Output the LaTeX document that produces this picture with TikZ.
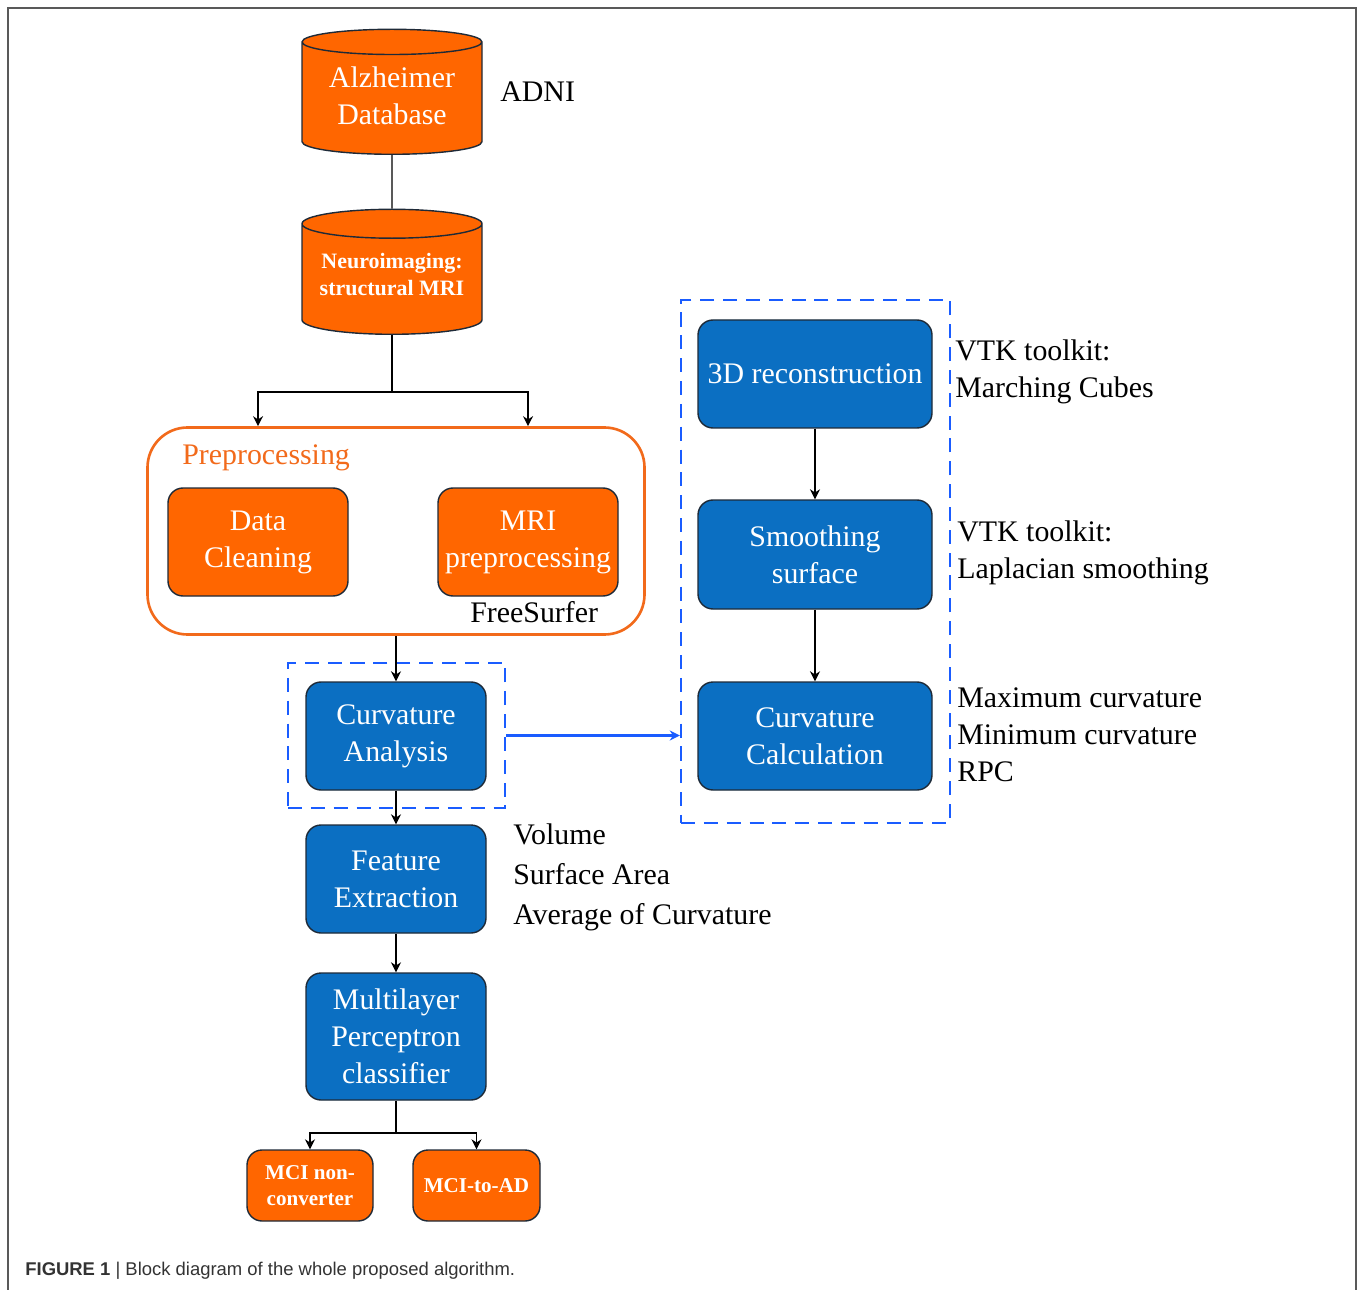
\documentclass[tikz,border=0pt]{standalone}
\usepackage{fontspec}
\setmainfont{Liberation Serif}
\setsansfont{Liberation Sans}
\usetikzlibrary{arrows.meta,positioning,shapes.geometric}
\definecolor{orng}{HTML}{FF6600}
\definecolor{orline}{HTML}{F26A1B}
\definecolor{bluebox}{HTML}{0B6FC2}
\definecolor{dashblue}{HTML}{1A5CFF}
\definecolor{edge}{HTML}{1E2A38}
\newlength{\unitpx}\setlength{\unitpx}{0.02cm}
\newcommand{\liftup}[1]{\raisebox{16pt}{\begin{tabular}{@{}c@{}}#1\end{tabular}}}

\begin{document}
\begin{tikzpicture}[x=0.02cm, y=-0.02cm, >={Stealth[length=2mm,width=2mm]},
  ob/.style={draw=edge, line width=0.8pt, fill=orng, rounded corners=15\unitpx, text=white, align=center, inner sep=0pt, minimum width=180\unitpx, minimum height=108\unitpx, font=\fontsize{17}{21}\selectfont},
  bb/.style={ob, fill=bluebox},
  cyl/.style={cylinder, shape border rotate=90, draw=edge, line width=0.8pt, cylinder uses custom fill, cylinder body fill=orng, cylinder end fill=orng, aspect=0.2, text=white, inner sep=0pt, minimum width=180\unitpx, minimum height=125\unitpx},
  dbox/.style={draw=dashblue, line width=1.4pt, dash pattern=on 8pt off 5pt, inner sep=0pt},
  note/.style={anchor=west, align=left, inner sep=0pt, font=\fontsize{17}{21}\selectfont}]
\useasboundingbox (0,0) rectangle (1358,1290);
\draw[black!65, line width=1pt] (8,1290) -- (8,8) -- (1356,8) -- (1356,1290);
\node[cyl, anchor=south, font=\fontsize{17}{21}\selectfont] (adb) at (392,155) {\liftup{Alzheimer\\Database}};
\node[note] (adni) at (500,92) {ADNI};
\node[cyl, anchor=south, font=\fontsize{12.5}{15.5}\selectfont\bfseries] (mri) at (392,335) {\liftup{Neuroimaging:\\structural MRI}};
\node[draw=orline, line width=1.5pt, rounded corners=40\unitpx, minimum width=497\unitpx, minimum height=207\unitpx] (prep) at (396,531) {};
\node[note, text=orline] (preplbl) at (182,458) {Preprocessing};
\node[ob] (clean) at (258,542) {Data\\Cleaning};
\node[ob] (mrip) at (528,542) {MRI\\preprocessing};
\node[note] (fs) at (470,612) {FreeSurfer};
\node[dbox, minimum width=217\unitpx, minimum height=145\unitpx] (cabox) at (396.5,735.5) {};
\node[bb] (ca) at (396,736) {Curvature\\Analysis};
\node[bb] (fe) at (396,879) {Feature\\Extraction};
\node[note, font=\fontsize{17}{22.7}\selectfont] (feats) at (513,877) {Volume\\Surface Area\\Average of Curvature};
\node[bb, minimum height=127\unitpx] (mlp) at (396,1036.5) {Multilayer\\Perceptron\\classifier};
\node[ob, minimum width=126\unitpx, minimum height=71\unitpx, font=\fontsize{12}{15}\selectfont\bfseries] (nonconv) at (310,1185.5) {MCI non-\\converter};
\node[ob, minimum width=127\unitpx, minimum height=71\unitpx, font=\fontsize{12}{15}\selectfont\bfseries] (conv) at (476.5,1185.5) {MCI-to-AD};
\node[dbox, minimum width=269\unitpx, minimum height=523\unitpx] (pipe) at (815.5,561.5) {};
\node[bb, minimum width=234\unitpx] (recon) at (815,374) {3D reconstruction};
\node[bb, minimum width=234\unitpx, minimum height=109\unitpx] (smooth) at (815,554.5) {Smoothing\\surface};
\node[bb, minimum width=234\unitpx] (calc) at (815,736) {Curvature\\Calculation};
\node[note] (vtka) at (955,372) {VTK toolkit:\\Marching Cubes};
\node[note] (vtkb) at (957,553) {VTK toolkit:\\Laplacian smoothing};
\node[note] (kinds) at (957,735) {Maximum curvature\\Minimum curvature\\RPC};
\node[anchor=west, inner sep=0pt, text=black!80, font=\sffamily\fontsize{10.5}{12.5}\selectfont] (cap) at (25,1271) {\textbf{FIGURE 1} | Block diagram of the whole proposed algorithm.};
\coordinate (fork) at (392,392);
\coordinate (split) at (396,1133);
\draw[line width=0.8pt] (adb.south) -- (mri.north);
\draw[line width=0.8pt] (mri.south) -- (fork);
\draw[->, line width=0.8pt] (fork) -| (clean.north |- prep.north);
\draw[->, line width=0.8pt] (fork) -| (mrip.north |- prep.north);
\draw[->, line width=0.8pt] (prep.south) -- (ca.north);
\draw[->, line width=0.8pt] (ca.south) -- (fe.north);
\draw[->, line width=0.8pt] (fe.south) -- (mlp.north);
\draw[line width=0.8pt] (mlp.south) -- (split);
\draw[->, line width=0.8pt] (split) -| (nonconv.north);
\draw[->, line width=0.8pt] (split) -| (conv.north);
\draw[->, line width=0.8pt] (recon.south) -- (smooth.north);
\draw[->, line width=0.8pt] (smooth.south) -- (calc.north);
\draw[->, dashblue, line width=1.4pt] (cabox.east) -- (cabox.east -| pipe.west);
\end{tikzpicture}
\end{document}
